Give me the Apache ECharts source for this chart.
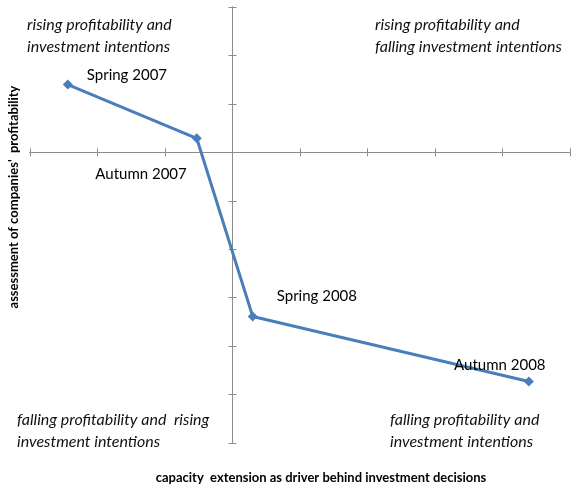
<!DOCTYPE html>
<html>
<head>
<meta charset="utf-8">
<script src="https://cdn.jsdelivr.net/npm/echarts@6/dist/echarts.min.js"></script>
<style>
  html, body { margin: 0; padding: 0; background: #fff; }
  #chart { width: 571px; height: 486px; }
</style>
</head>
<body>
<div id="chart"></div>
<script>
// survey rounds and their position (x: capacity extension, y: profitability)
const periods = ['Spring 2007', 'Autumn 2007', 'Spring 2008', 'Autumn 2008']
const capacityValues = [-2.44, -0.53, 0.30, 4.39]
const profitValues = [1.40, 0.29, -3.39, -4.73]
const xRange = [-3, 5]
const yRange = [-6, 3]

const myChart = echarts.init(document.getElementById('chart'))

const axisGrey = '#8c8c8c'
const fontFam = 'Lato, "Open Sans", sans-serif'

// label placement per point
const labelPlace = [
  { position: 'right', offset: [9, -9] },
  { position: 'left', offset: [0, 36] },
  { position: 'right', offset: [14, -20] },
  { position: 'top', offset: [-29, 1] }
]

const points = periods.map((p, i) => ({
  name: p,
  value: [capacityValues[i], profitValues[i]],
  label: labelPlace[i]
}))

// two copies of each axis (opposite positions) so the ticks cross the line
function valueAxis(range, position) {
  return {
    type: 'value',
    position: position,
    min: range[0],
    max: range[1],
    interval: 1,
    splitLine: { show: false },
    axisLabel: { show: false },
    axisLine: { show: true, onZero: true, onZeroAxisIndex: 0, lineStyle: { color: axisGrey, width: 1 } },
    axisTick: { show: true, inside: false, length: 4, lineStyle: { color: axisGrey, width: 1 } }
  }
}

const italic = { fontFamily: fontFam, fontStyle: 'italic', fontSize: 16, fill: '#111', lineHeight: 22 }
const bold = { fontFamily: fontFam, fontWeight: 'bold', fontSize: 13, fill: '#000' }

const option = {
  animation: false,
  grid: { left: 30, right: 1, top: 7, bottom: 43 },
  xAxis: [valueAxis(xRange, 'bottom'), valueAxis(xRange, 'top')],
  yAxis: [valueAxis(yRange, 'left'), valueAxis(yRange, 'right')],
  graphic: [
    { type: 'text', left: 27, top: 14, style: Object.assign({ text: 'rising profitability and\ninvestment intentions' }, italic) },
    { type: 'text', left: 375, top: 14, style: Object.assign({ text: 'rising profitability and\nfalling investment intentions' }, italic) },
    { type: 'text', left: 17, top: 409, style: Object.assign({ text: 'falling profitability and  rising\ninvestment intentions' }, italic) },
    { type: 'text', left: 390, top: 409, style: Object.assign({ text: 'falling profitability and\ninvestment intentions' }, italic) },
    { type: 'text', x: 321, y: 478, style: Object.assign({ text: 'capacity  extension as driver behind investment decisions', align: 'center', verticalAlign: 'middle' }, bold) },
    { type: 'text', x: 14, y: 197, rotation: Math.PI / 2, style: Object.assign({ text: "assessment of companies'  profitability", align: 'center', verticalAlign: 'middle' }, bold) }
  ],
  series: [
    {
      type: 'line',
      xAxisIndex: 0,
      yAxisIndex: 0,
      data: points,
      symbol: 'diamond',
      symbolSize: 10,
      lineStyle: { color: '#4a7ebb', width: 3 },
      itemStyle: { color: '#4a7ebb' },
      label: {
        show: true,
        formatter: '{b}',
        color: '#000',
        fontFamily: fontFam,
        fontSize: 15
      }
    }
  ]
}

myChart.setOption(option)
</script>
</body>
</html>
